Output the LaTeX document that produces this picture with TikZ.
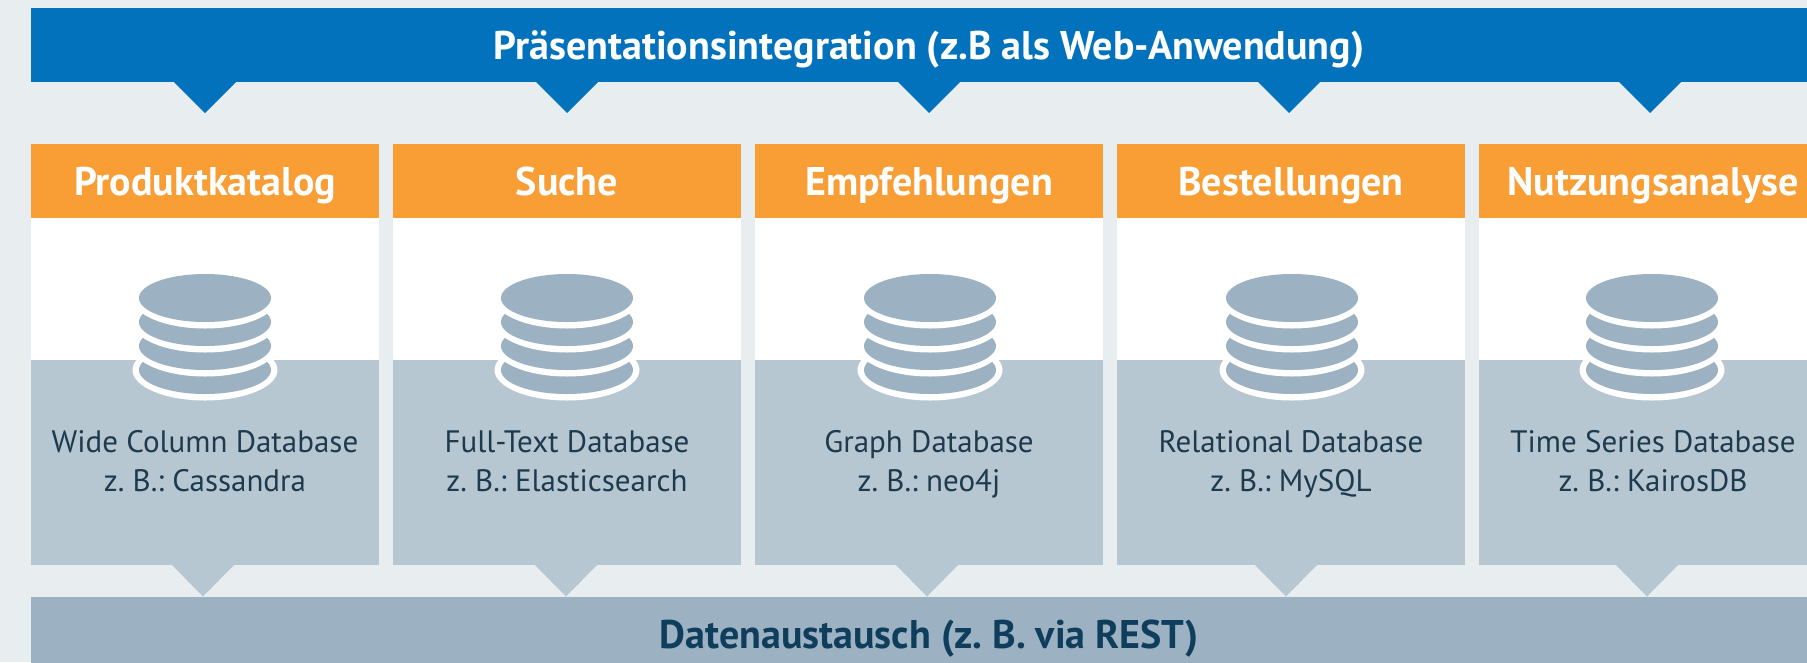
\documentclass[tikz,border=0pt]{standalone}
\usepackage{fontspec}
\setmainfont{PT Sans}
\frenchspacing
\definecolor{pagebg}{HTML}{E8EDF0}
\definecolor{topblue}{HTML}{0272BD}
\definecolor{headorange}{HTML}{F99D35}
\definecolor{lightslate}{HTML}{B6C7D2}
\definecolor{midslate}{HTML}{9CB2C2}
\definecolor{darknavy}{HTML}{0F3D5C}
\definecolor{desctext}{HTML}{1E3A4E}
\tikzset{
  x=1pt,y=-1pt,
  boxbase/.style={anchor=north west,inner sep=0pt,outer sep=0pt,minimum width=348pt},
  headfont/.style={text height=28.5pt,text depth=0pt,font=\fontsize{40}{40}\selectfont\bfseries},
  headbox/.style={boxbase,headfont,fill=headorange,minimum height=74.5pt,text=white},
  whitebox/.style={boxbase,fill=white,minimum height=142pt},
  greybox/.style={boxbase,fill=lightslate,minimum height=205pt},
  desc/.style={inner sep=0pt,anchor=north,align=center,text=desctext,text height=22pt,font=\fontsize{31}{39}\selectfont},
  topbar/.style={anchor=north west,inner sep=0pt,outer sep=0pt,headfont,minimum width=1796pt,minimum height=74.5pt,fill=topblue,text=white},
  botbar/.style={anchor=north west,inner sep=0pt,outer sep=0pt,headfont,minimum width=1796pt,minimum height=75pt,fill=midslate,text=darknavy},
  dbhalo/.style={fill=white},
  dbdisc/.style={fill=midslate},
}
\newcommand{\dbicon}[1]{%
  \foreach \yy in {370,346,322,298}{
    \path[dbhalo] (#1,\yy) ellipse [x radius=72.5,y radius=30.5];
    \path[dbdisc] (#1,\yy) ellipse [x radius=66,y radius=24];
  }}
\begin{document}
\begin{tikzpicture}
\useasboundingbox (0,0) rectangle (1807,662);
\clip (0,0) rectangle (1807,662);
\fill[pagebg] (0,0) rectangle (1807,662);
% top bar
\node[topbar] (top) at (31,7.5) {Präsentationsintegration (z.B als Web-Anwendung)};
% bottom bar
\node[botbar] (bottom) at (31,597) {Datenaustausch (z. B. via REST)};
\foreach \i/\x/\tt/\tb/\ic/\head/\la/\lb in {
  1/31/205/203/205/Produktkatalog/Wide Column Database/Cassandra,
  2/393/567/566/567/Suche/Full-Text Database/Elasticsearch,
  3/755/929/927/930/Empfehlungen/Graph Database/neo4j,
  4/1117/1289/1286/1292/Bestellungen/Relational Database/MySQL,
  5/1479/1650/1647/1652/Nutzungsanalyse/Time Series Database/KairosDB}{
  \node[whitebox] (w\i) at (\x,218) {};
  \node[greybox] (g\i) at (\x,360) {};
  \node[headbox] (h\i) at (\x,143.5) {\head};
  \fill[topblue] (\tt-31,82) -- (\tt+31,82) -- (\tt,113) -- cycle;
  \fill[lightslate] (\tb-31,565) -- (\tb+31,565) -- (\tb,596.5) -- cycle;
  \dbicon{\ic}
  \node[desc] (d\i) at (\x+174,469) {\la\\z. B.: \lb};
}
\end{tikzpicture}
\end{document}
